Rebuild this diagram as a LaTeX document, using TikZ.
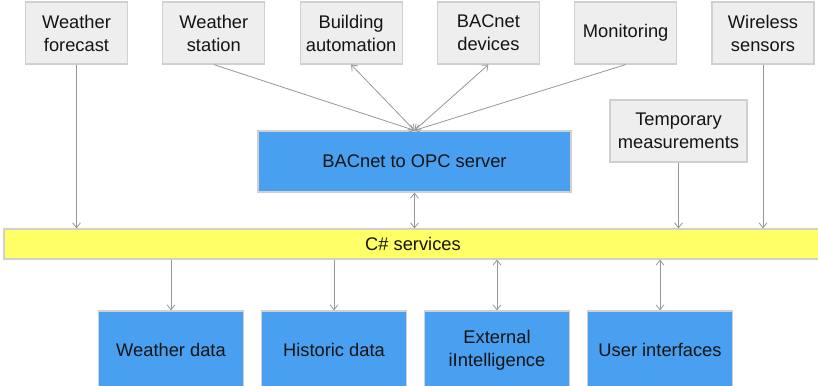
\documentclass[tikz,border=0pt]{standalone}
\usepackage{fontspec}
\setmainfont{Liberation Sans}
\usetikzlibrary{arrows.meta, positioning}

\definecolor{boxgray}{RGB}{238,238,238}
\definecolor{edgegray}{RGB}{208,208,208}
\definecolor{linegray}{RGB}{150,150,150}
\definecolor{opcblue}{RGB}{73,159,240}
\definecolor{baryellow}{RGB}{255,255,102}

\begin{document}
\begin{tikzpicture}[
            x = 1pt, y = 1pt,
            > = {Straight Barb[length=5pt,width=8pt]}, % arrow head style
            node distance = 137.3pt, % distance between source boxes
            every node/.style = {font=\fontsize{18.3}{23}\selectfont, align=center, text=black!92}
        ]

        \tikzstyle{src}=[
            draw = edgegray,
            line width = 1.2pt,
            fill = boxgray,
            minimum width = 102pt,
            minimum height = 62pt
        ]
        \tikzstyle{blue box}=[
            draw = edgegray,
            line width = 1.2pt,
            fill = opcblue
        ]
        \tikzstyle{link}=[
            draw = linegray,
            line width = 0.8pt
        ]

        \clip (0,0) rectangle (818,385);

        % sources
        \node[src] (wf) at (76.5,352) {Weather\\forecast};
        \node[src] (ws) [right of=wf] {Weather\\station};
        \node[src] (ba) [right of=ws] {Building\\automation};
        \node[src] (bd) [right of=ba] {BACnet\\devices};
        \node[src] (mon) [right of=bd] {Monitoring};
        \node[src] (wls) [right of=mon] {Wireless\\sensors};
        \node[src, minimum width=137pt] (tmp) at (678.5,254) {Temporary\\measurements};

        \node[blue box, minimum width=313pt, minimum height=61pt] (opc) at (414.5,223.5) {BACnet to OPC server};

        \node[draw=edgegray, line width=1.2pt, fill=baryellow, minimum width=818pt, minimum height=30pt] (bar) at (413,141) {C\# services};

        % stores
        \node[blue box, minimum width=145pt, minimum height=78pt] (wd) at (171,35) {Weather data};
        \node[blue box, minimum width=145pt, minimum height=78pt] (hd) [right of=wd, node distance=163pt] {Historic data};
        \node[blue box, minimum width=145pt, minimum height=78pt] (ei) [right of=hd, node distance=163pt] {External\\iIntelligence};
        \node[blue box, minimum width=145pt, minimum height=78pt] (ui) [right of=ei, node distance=163pt] {User interfaces};

        \draw[link, ->] (ws.south) -- (opc.north);
        \draw[link, <->] (ba.south) -- (opc.north);
        \draw[link, <->] (bd.south) -- (opc.north);
        \draw[link, ->] (mon.south) -- (opc.north);

        \draw[link, ->] (wf.south) -- (wf.south |- bar.north);
        \draw[link, <->] (opc.south) -- (opc.south |- bar.north);
        \draw[link, ->] (tmp.south) -- (tmp.south |- bar.north);
        \draw[link, ->] (wls.south) -- (wls.south |- bar.north);

        \draw[link, ->] (bar.south -| wd) -- (wd.north);
        \draw[link, ->] (bar.south -| hd) -- (hd.north);
        \draw[link, <->] (bar.south -| ei) -- (ei.north);
        \draw[link, <->] (bar.south -| ui) -- (ui.north);
    \end{tikzpicture}
\end{document}
